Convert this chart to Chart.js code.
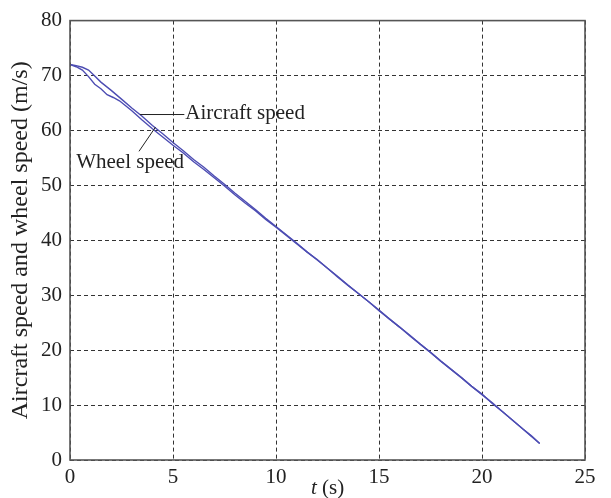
<!DOCTYPE html>
<html>
<head>
    <meta charset="utf-8">
    <title>Aircraft speed and wheel speed</title>
    <script src="https://cdn.jsdelivr.net/npm/chart.js"></script>
    <style>
        html, body { margin: 0; padding: 0; background: #fff; }
        #wrap { width: 611px; height: 498px; }
    </style>
</head>
<body>
    <div id="wrap"><canvas id="speedChart" width="611" height="498"></canvas></div>

    <script>
        // time axis (s) and speeds (m/s)
        const aircraftT = [0, 0.3, 0.6, 0.9, 1.2, 1.5, 2, 2.5, 3, 3.5, 4, 4.5, 5, 5.5, 6, 6.5, 7, 7.5, 8, 8.5, 9, 9.5,
            10, 10.5, 11, 11.5, 12, 12.5, 13, 13.5, 14, 14.5, 15, 15.5, 16, 16.5, 17, 17.5, 18, 18.5, 19, 19.5,
            20, 20.5, 21, 21.5, 22, 22.4, 22.8];
        const aircraftV = [72.0, 71.8, 71.5, 71.0, 69.9, 68.8, 67.3, 65.7, 64.1, 62.6, 60.9, 59.4, 57.8, 56.3, 54.7, 53.3, 51.7, 50.2, 48.6, 47.1, 45.6, 44.0,
            42.5, 41.0, 39.5, 37.9, 36.5, 34.9, 33.4, 31.8, 30.3, 28.8, 27.3, 25.7, 24.2, 22.7, 21.1, 19.6, 18.0, 16.5, 15.0, 13.4,
            12.0, 10.3, 8.8, 7.2, 5.6, 4.4, 3.0];

        const wheelT = [0, 0.3, 0.6, 0.9, 1.2, 1.5, 1.8, 2.1, 2.4, 2.7, 3, 3.5, 4, 4.5, 5, 5.5, 6, 6.5, 7, 7.5, 8, 8.5, 9, 9.5,
            10, 10.5, 11, 11.5, 12, 12.5, 13, 13.5, 14, 14.5, 15, 15.5, 16, 16.5, 17, 17.5, 18, 18.5, 19, 19.5,
            20, 20.5, 21, 21.5, 22, 22.4, 22.8];
        const wheelV = [72.0, 71.6, 71.0, 69.8, 68.4, 67.6, 66.5, 66.0, 65.4, 64.5, 63.6, 61.9, 60.3, 58.8, 57.3, 55.9, 54.3, 52.9, 51.4, 49.9, 48.3, 46.8, 45.4, 43.8,
            42.4, 40.9, 39.4, 37.9, 36.4, 34.9, 33.3, 31.8, 30.3, 28.8, 27.2, 25.7, 24.2, 22.6, 21.1, 19.6, 18.0, 16.5, 15.0, 13.4,
            11.9, 10.4, 8.8, 7.2, 5.6, 4.3, 3.0];

        const xTicks = [0, 5, 10, 15, 20, 25];
        const yTicks = [0, 10, 20, 30, 40, 50, 60, 70, 80];

        const serif = '"Liberation Serif", "DejaVu Serif", serif';
        const lineColor = '#4d4db3';

        function toPoints(ts, vs) {
            return ts.map((t, i) => ({ x: t, y: vs[i] }));
        }

        // frame, axis title and the two callouts
        const decorations = {
            id: 'decorations',
            afterDraw(chart) {
                const ctx = chart.ctx;
                const a = chart.chartArea;
                const xs = chart.scales.x;
                const ys = chart.scales.y;
                ctx.save();

                ctx.strokeStyle = '#555';
                ctx.lineWidth = 1.6;
                ctx.strokeRect(a.left, a.top, a.right - a.left, a.bottom - a.top);

                // x title: italic t + (s)
                ctx.fillStyle = '#222';
                ctx.textBaseline = 'middle';
                ctx.font = 'italic 21px ' + serif;
                const tW = ctx.measureText('t').width;
                ctx.font = '21px ' + serif;
                const sW = ctx.measureText(' (s)').width;
                const cx = (a.left + a.right) / 2 - (tW + sW) / 2;
                ctx.font = 'italic 21px ' + serif;
                ctx.textAlign = 'left';
                ctx.fillText('t', cx, 488);
                ctx.font = '21px ' + serif;
                ctx.fillText(' (s)', cx + tW, 488);

                // callouts
                ctx.strokeStyle = '#222';
                ctx.lineWidth = 1;
                ctx.beginPath();
                ctx.moveTo(xs.getPixelForValue(3.4), ys.getPixelForValue(62.9));
                ctx.lineTo(xs.getPixelForValue(5.55), ys.getPixelForValue(62.9));
                ctx.moveTo(xs.getPixelForValue(3.35), ys.getPixelForValue(56.2));
                ctx.lineTo(xs.getPixelForValue(4.15), ys.getPixelForValue(60.6));
                ctx.stroke();

                ctx.font = '21px ' + serif;
                ctx.fillText('Aircraft speed', xs.getPixelForValue(5.6), ys.getPixelForValue(63.1));
                ctx.fillText('Wheel speed', xs.getPixelForValue(0.3), ys.getPixelForValue(54.2));

                ctx.restore();
            }
        };

        new Chart(document.getElementById('speedChart'), {
            type: 'line',
            data: {
                datasets: [
                    {
                        label: 'Aircraft speed',
                        data: toPoints(aircraftT, aircraftV),
                        borderColor: lineColor,
                        borderWidth: 1.4,
                        pointRadius: 0,
                        tension: 0
                    },
                    {
                        label: 'Wheel speed',
                        data: toPoints(wheelT, wheelV),
                        borderColor: lineColor,
                        borderWidth: 1.4,
                        pointRadius: 0,
                        tension: 0
                    }
                ]
            },
            options: {
                responsive: false,
                animation: false,
                layout: { padding: { left: 0, top: 17, right: 26, bottom: 0 } },
                plugins: {
                    legend: { display: false },
                    tooltip: { enabled: false }
                },
                scales: {
                    x: {
                        type: 'linear',
                        min: 0,
                        max: 25,
                        afterFit: s => { s.height = 38; },
                        afterBuildTicks: s => { s.ticks = xTicks.map(v => ({ value: v })); },
                        ticks: {
                            color: '#222',
                            padding: 5,
                            font: { family: serif, size: 21 }
                        },
                        grid: {
                            color: '#333',
                            lineWidth: 1,
                            drawTicks: false
                        },
                        border: { display: false, dash: [4, 3] }
                    },
                    y: {
                        min: 0,
                        max: 80,
                        afterFit: s => { s.width = 70; },
                        afterBuildTicks: s => { s.ticks = yTicks.map(v => ({ value: v })); },
                        ticks: {
                            color: '#222',
                            padding: 8,
                            font: { family: serif, size: 21 }
                        },
                        grid: {
                            color: '#333',
                            lineWidth: 1,
                            drawTicks: false
                        },
                        border: { display: false, dash: [4, 3] },
                        title: {
                            display: true,
                            text: 'Aircraft speed and wheel speed (m/s)',
                            color: '#222',
                            padding: { top: 6, bottom: 0 },
                            font: { family: serif, size: 24 }
                        }
                    }
                }
            },
            plugins: [decorations]
        });
    </script>
</body>
</html>
